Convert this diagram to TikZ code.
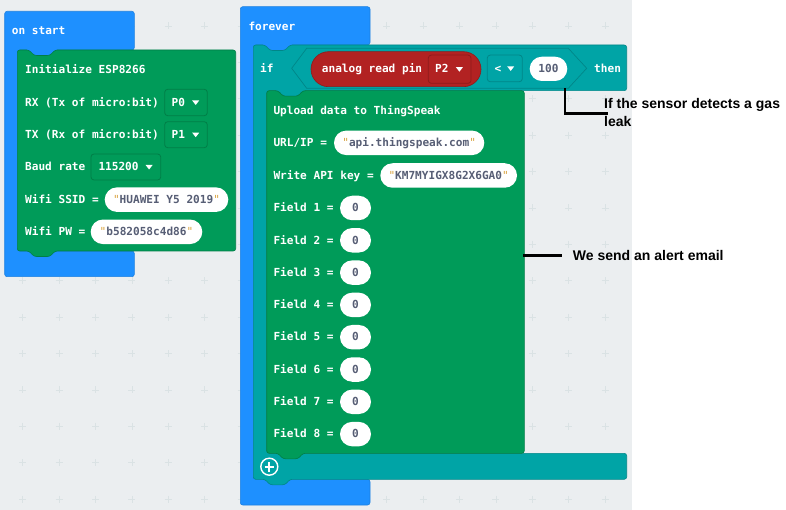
\documentclass[tikz,border=0pt]{standalone}
\usepackage{fontspec}
\newfontfamily\monof{DejaVu Sans Mono}
\newfontfamily\annf{Liberation Sans}
\usetikzlibrary{shapes.misc}
\definecolor{bg}{HTML}{EBEEF0}
\definecolor{gridc}{HTML}{DAE2E4}
\definecolor{evblue}{HTML}{1E90FF}
\definecolor{evbluedark}{HTML}{1C80E0}
\definecolor{espgreen}{HTML}{009B59}
\definecolor{espdark}{HTML}{007E47}
\definecolor{logic}{HTML}{00A4A6}
\definecolor{logicdark}{HTML}{008688}
\definecolor{pinred}{HTML}{B22222}
\definecolor{pindark}{HTML}{8E1B1B}
\definecolor{pilltext}{HTML}{575E75}
\definecolor{quotec}{HTML}{D9A441}
\newcommand\qq{{\mdseries\color{quotec}"}}
\newcommand\ddtri[1]{\fill[white] ([xshift=-15.5pt,yshift=2pt]#1.east) -- ([xshift=-8.5pt,yshift=2pt]#1.east) -- ([xshift=-12pt,yshift=-2.5pt]#1.east) -- cycle;}
\tikzset{
  lbl/.style={anchor=west, inner sep=0pt, text=white, font=\monof\bfseries\fontsize{11.1}{13}\selectfont, text height=9pt, text depth=1.5pt},
  pill/.style={rounded rectangle, fill=white, inner sep=0pt, minimum height=24.5pt, text=pilltext, font=\monof\bfseries\fontsize{11.1}{13}\selectfont, text height=9pt, text depth=1.5pt},
  ddbox/.style={rectangle, rounded corners=3pt, line width=0.8pt, inner sep=0pt},
  blk/.style={rounded corners=2.5pt, line width=0.6pt},
  ann/.style={font=\annf\bfseries\fontsize{14}{18.4}\selectfont, inner sep=0pt, anchor=west, align=left, text=black},
  annline/.style={line width=2.6pt, black},
}
\begin{document}
\begin{tikzpicture}[x=1pt,y=-1pt]
\useasboundingbox (0,0) rectangle (786,510);
\fill[bg] (0,0) rectangle (632,510);
\fill[white] (632,0) rectangle (786,510);
% grid
\foreach \i in {0,...,16}{
  \foreach \j in {0,...,13}{
    \draw[gridc, line width=0.6pt] ({22.7+36.4*\i-3.5},{25.9+36.4*\j}) -- ++(7,0)
      ({22.7+36.4*\i},{25.9+36.4*\j-3.5}) -- ++(0,7);
  }
}
% ---------- on start ----------
\draw[blk, fill=evblue, draw=evbluedark] (4.7,11.3) -- (134.3,11.3) -- (134.3,50) -- (55,50) -- (50,55.5) -- (34,55.5) -- (29,50) -- (17.3,50) -- (17.3,251) -- (134.3,251) -- (134.3,276.7) -- (4.7,276.7) -- cycle;
\node[lbl] (onstart) at (11.7,31) {on start};
\draw[blk, fill=espgreen, draw=espdark] (17.3,50) -- (29,50) -- (34,55.5) -- (50,55.5) -- (55,50) -- (235.7,50) -- (235.7,251) -- (55,251) -- (50,256.5) -- (34,256.5) -- (29,251) -- (17.3,251) -- cycle;
\node[lbl] (init) at (25,70) {Initialize ESP8266};
\node[lbl] (rx) at (25,102.5) {RX (Tx of micro:bit)};
\node[ddbox, fill=espgreen, draw=espdark, minimum width=42.6pt, minimum height=26.4pt] (ddp0) at (186,102.5) {};
\node[lbl] (p0) at (171.5,102.5) {P0};
\ddtri{ddp0}
\node[lbl] (tx) at (25,134.7) {TX (Rx of micro:bit)};
\node[ddbox, fill=espgreen, draw=espdark, minimum width=42.6pt, minimum height=26pt] (ddp1) at (186,134.7) {};
\node[lbl] (p1) at (171.5,134.7) {P1};
\ddtri{ddp1}
\node[lbl] (baud) at (25,167) {Baud rate};
\node[ddbox, fill=espgreen, draw=espdark, minimum width=69.7pt, minimum height=26pt] (ddbaud) at (125.85,167) {};
\node[lbl] (baudv) at (98.3,167) {115200};
\ddtri{ddbaud}
\node[lbl] (ssid) at (25,199.7) {Wifi SSID =};
\node[pill, minimum width=123.6pt] (ssidv) at (166.5,199.65) {\qq HUAWEI Y5 2019\qq};
\node[lbl] (pw) at (25,231.8) {Wifi PW =};
\node[pill, minimum width=111.6pt] (pwv) at (146.5,231.8) {\qq b582058c4d86\qq};
% ---------- forever ----------
\draw[blk, fill=evblue, draw=evbluedark] (240.3,6.7) -- (370,6.7) -- (370,45) -- (290,45) -- (285,50.5) -- (270,50.5) -- (265,45) -- (253.3,45) -- (253.3,479.3) -- (370,479.3) -- (370,505) -- (240.3,505) -- cycle;
\node[lbl] (forever) at (248.3,27) {forever};
\draw[blk, fill=logic, draw=logicdark] (253.3,45) -- (265,45) -- (270,50.5) -- (285,50.5) -- (290,45) -- (626.7,45) -- (626.7,90.7) -- (303,90.7) -- (298,96.2) -- (283,96.2) -- (278,90.7) -- (266.7,90.7) -- (266.7,453.3) -- (626.7,453.3) -- (626.7,479.3) -- (290,479.3) -- (285,484.8) -- (270,484.8) -- (265,479.3) -- (253.3,479.3) -- cycle;
\node[lbl] (iflbl) at (260,68.7) {if};
\node[lbl] (thenlbl) at (594,69) {then};
\draw[fill=logic, draw=logicdark, line width=0.7pt] (291.7,68.3) -- (306.7,48.3) -- (568.3,48.3) -- (586.7,68.3) -- (568.3,88.3) -- (306.7,88.3) -- cycle;
\coordinate (condtip) at (565,88.3);
\node[rounded rectangle, fill=pinred, draw=pindark, line width=0.6pt, minimum width=170pt, minimum height=35pt, inner sep=0pt] (analog) at (396,69.2) {};
\node[lbl] (analoglbl) at (321.7,69) {analog read pin};
\node[ddbox, fill=pinred, draw=pindark, minimum width=42.7pt, minimum height=28.3pt] (ddp2) at (449.65,69.2) {};
\node[lbl] (p2) at (435,69.2) {P2};
\ddtri{ddp2}
\node[ddbox, fill=logic, draw=logicdark, minimum width=35pt, minimum height=26.7pt] (ddlt) at (504.8,68.4) {};
\node[lbl] (lt) at (494.3,68.4) {<};
\ddtri{ddlt}
\node[pill, minimum width=37.6pt, minimum height=24.3pt] (hundred) at (548.5,68.85) {100};
% ---------- upload ----------
\draw[blk, fill=espgreen, draw=espdark] (266.7,90.7) -- (278,90.7) -- (283,96.2) -- (298,96.2) -- (303,90.7) -- (524.3,90.7) -- (524.3,453.3) -- (303,453.3) -- (298,458.8) -- (283,458.8) -- (278,453.3) -- (266.7,453.3) -- cycle;
\node[lbl] (upload) at (273.3,110.7) {Upload data to ThingSpeak};
\node[lbl] (url) at (273.3,143) {URL/IP =};
\node[pill, minimum width=150.3pt] (urlv) at (409.15,142.85) {\qq api.thingspeak.com\qq};
\node[lbl] (api) at (273.3,175.5) {Write API key =};
\node[pill, minimum width=136.7pt] (apiv) at (448.65,175.5) {\qq KM7MYIGX8G2X6GA0\qq};
\foreach \k in {1,...,8}{
  \node[lbl] (field\k) at (273.3,{208+32.3*(\k-1)}) {Field \k\ =};
  \node[pill, minimum width=31pt] (field\k v) at (355.5,{208+32.3*(\k-1)}) {0};
}
\node[circle, draw=white, line width=1.4pt, minimum size=17pt, inner sep=0pt] (plusbtn) at (269.3,466.7) {};
\draw[white, line width=2.2pt] ([xshift=-4.8pt]plusbtn.center) -- ([xshift=4.8pt]plusbtn.center)
  ([yshift=-4.8pt]plusbtn.center) -- ([yshift=4.8pt]plusbtn.center);
% ---------- annotations ----------
\node[ann] (ann1) at (604,112.5) {If the sensor detects a gas\\leak};
\coordinate (ann1hook) at (608.3,113.3);
\draw[annline] (condtip) |- (ann1hook);
\node[ann] (ann2) at (572.7,255.7) {We send an alert email};
\coordinate (c2) at (523.3,255.7);
\draw[annline] (c2) -- ([xshift=-11pt]ann2.west);
\end{tikzpicture}
\end{document}
